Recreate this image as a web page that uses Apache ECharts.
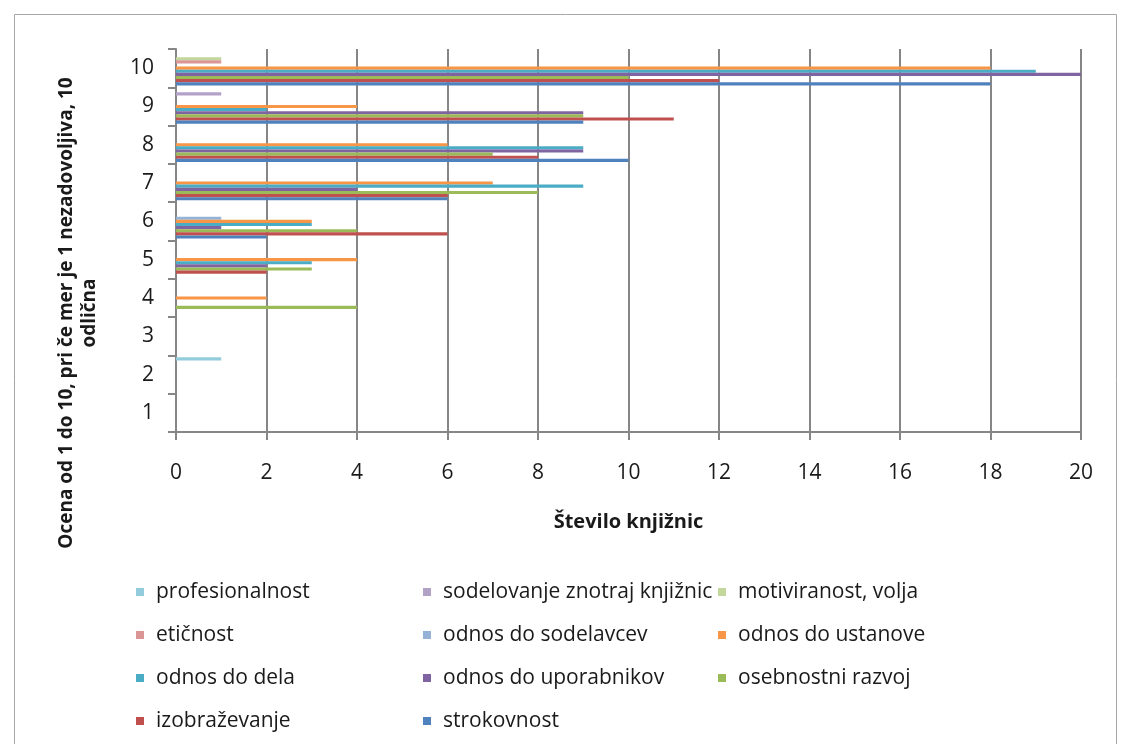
<!DOCTYPE html>
<html>
<head>
<meta charset="utf-8">
<script src="https://cdn.jsdelivr.net/npm/echarts@6/dist/echarts.min.js"></script>
<style>
  html, body { margin: 0; padding: 0; background: #ffffff; }
  #chart { width: 1129px; height: 744px; }
</style>
</head>
<body>
<div id="chart"></div>
<script>
// Ratings 1..10 (bottom to top)
const categories = ['1', '2', '3', '4', '5', '6', '7', '8', '9', '10'];

// Number of libraries giving each rating, per aspect
const profesionalnost       = [0, 1, 0, 0, 0, 0, 0, 0, 0, 0];
const sodelovanjeZnotraj    = [0, 0, 0, 0, 0, 0, 0, 0, 1, 0];
const motiviranost          = [0, 0, 0, 0, 0, 0, 0, 0, 0, 1];
const eticnost              = [0, 0, 0, 0, 0, 0, 0, 0, 0, 1];
const odnosSodelavci        = [0, 0, 0, 0, 0, 1, 0, 0, 0, 0];
const odnosUstanova         = [0, 0, 0, 2, 4, 3, 7, 6, 4, 18];
const odnosDelo             = [0, 0, 0, 0, 3, 3, 9, 9, 2, 19];
const odnosUporabniki       = [0, 0, 0, 0, 2, 1, 4, 9, 9, 20];
const osebnostniRazvoj      = [0, 0, 0, 4, 3, 4, 8, 7, 9, 10];
const izobrazevanje         = [0, 0, 0, 0, 2, 6, 6, 8, 11, 12];
const strokovnost           = [0, 0, 0, 0, 0, 2, 6, 10, 9, 18];

const seriesNames = [
  'profesionalnost', 'sodelovanje znotraj knjižnic', 'motiviranost, volja',
  'etičnost', 'odnos do sodelavcev', 'odnos do ustanove',
  'odnos do dela', 'odnos do uporabnikov', 'osebnostni razvoj',
  'izobraževanje', 'strokovnost'
];
const seriesValues = [
  profesionalnost, sodelovanjeZnotraj, motiviranost,
  eticnost, odnosSodelavci, odnosUstanova,
  odnosDelo, odnosUporabniki, osebnostniRazvoj,
  izobrazevanje, strokovnost
];

const colors = [
  '#93cddd', '#b3a2c7', '#c3d69b',
  '#d99694', '#95b3d7', '#f79646',
  '#4bacc6', '#8064a2', '#9bbb59',
  '#c0504d', '#4f81bd'
];

const FONT = '"Open Sans", "Noto Sans", sans-serif';
const TEXT = '#1a1a1a';
const GRID = '#868686';

const series = seriesNames.map((name, i) => ({
  name: name,
  type: 'bar',
  data: seriesValues[i],
  barGap: '0%',
  barCategoryGap: '10%',
  itemStyle: { color: colors[i] },
  emphasis: { disabled: true }
}));

// Legend laid out in three columns, row-major like the series order
function legendColumn(col, left) {
  const names = seriesNames.filter((_, i) => i % 3 === col);
  return {
    orient: 'vertical',
    left: left,
    top: 576,
    itemWidth: 8,
    itemHeight: 8,
    itemGap: 21,
    icon: 'rect',
    selectedMode: false,
    data: names,
    textStyle: {
      fontFamily: FONT, fontSize: 21, color: TEXT, lineHeight: 22,
      padding: [0, 0, 0, 7]
    }
  };
}

const chart = echarts.init(document.getElementById('chart'), null, { renderer: 'canvas' });

chart.setOption({
  animation: false,
  backgroundColor: '#ffffff',
  color: colors,
  grid: { left: 176, right: 48, top: 49, bottom: 312, containLabel: false },
  legend: [legendColumn(0, 131), legendColumn(1, 418), legendColumn(2, 713)],
  xAxis: {
    type: 'value',
    min: 0,
    max: 20,
    interval: 2,
    name: 'Število knjižnic',
    nameLocation: 'middle',
    nameGap: 80,
    nameTextStyle: { fontFamily: FONT, fontSize: 20, fontWeight: 'bold', color: TEXT },
    axisLine: { show: true, lineStyle: { color: GRID, width: 2 } },
    axisTick: { show: true, length: 8, lineStyle: { color: GRID, width: 2 } },
    axisLabel: { fontFamily: FONT, fontSize: 21, color: TEXT, margin: 31 },
    splitLine: { show: true, lineStyle: { color: GRID, width: 2 } }
  },
  yAxis: {
    type: 'category',
    data: categories,
    axisLine: { show: true, lineStyle: { color: GRID, width: 2 } },
    axisTick: { show: true, length: 8, alignWithLabel: false, lineStyle: { color: GRID, width: 2 } },
    axisLabel: { fontFamily: FONT, fontSize: 21, color: TEXT, margin: 22 },
    splitLine: { show: false }
  },
  graphic: [
    {
      type: 'rect',
      shape: { x: 14.5, y: 14.5, width: 1102, height: 760 },
      style: { fill: 'none', stroke: '#a6a6a6', lineWidth: 1 },
      silent: true
    },
    {
      type: 'text',
      x: 78,
      y: 313,
      rotation: Math.PI / 2,
      style: {
        text: 'Ocena od 1 do 10, pri če mer je 1 nezadovoljiva, 10\nodlična',
        fontFamily: FONT,
        fontSize: 19,
        fontWeight: 'bold',
        fill: TEXT,
        align: 'center',
        verticalAlign: 'middle',
        lineHeight: 23
      },
      silent: true
    }
  ],
  series: series
});
</script>
</body>
</html>
